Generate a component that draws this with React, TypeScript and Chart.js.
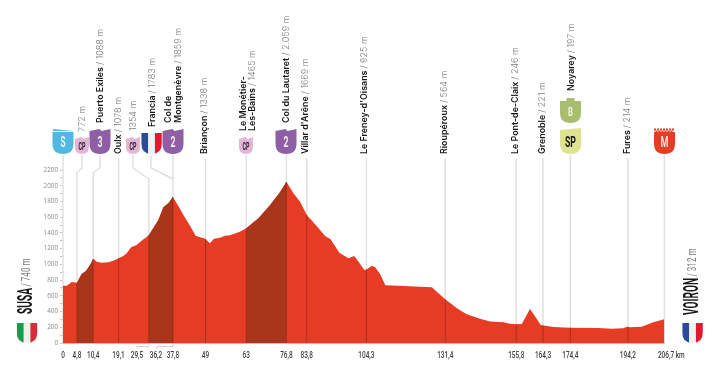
import React, { useEffect, useRef } from "react";
import { Chart, registerables } from "chart.js";
Chart.register(...registerables);

const profileKm = [0,1.3,3,4.8,6.4,7.9,9.3,10.4,11.6,13.3,15.6,17.3,19.1,20.7,21.9,23.4,25.3,27,29.5,31,32.8,34.5,36.2,37.8,39.6,41.4,43.7,45.6,47.1,48.9,50.5,51.9,54,55.7,57.4,60.8,63,67.2,71.2,74.7,76.8,79.2,81.5,83.8,87.2,90.1,92,95,98.1,100.1,101.6,103.6,104.3,106.2,107.3,109,110.8,117.1,126.8,128.5,131.4,135.4,138.8,143.4,146.8,151.4,153.7,155.8,157.7,158.8,160.5,162.2,164.2,168.6,174.4,184,188.6,192.6,193.8,194.9,198.9,202.9,206.7];
const profileElev = [729,729,776,765,877,916,992,1072,1034,1022,1026,1047,1077,1106,1140,1217,1246,1301,1370,1458,1564,1725,1776,1857,1746,1628,1488,1365,1344,1327,1267,1327,1340,1365,1369,1416,1458,1585,1755,1925,2050,1903,1797,1628,1488,1361,1318,1149,1077,1106,1034,928,935,983,962,877,733,725,708,653,555,441,365,309,275,263,246,237,242,314,432,343,229,203,195,191,182,187,208,199,208,263,301];

const stopKm = [0,4.8,10.4,19.1,29.5,37.8,49,63,76.8,83.8,104.3,131.4,155.8,165,174.4,194.2,206.7];
const stopKmLabels = ["0","4,8","10,4","19,1","29,5","37,8","49","63","76,8","83,8","104,3","131,4","155,8","164,3","174,4","194,2","206,7 km"];
const climbs = [[4.8,10.4],[29.5,37.8],[63,76.8]];

const placeNames = ["", "Puerto Exiles","Oulx","","Francia","Col de|Montgenèvre","Briançon","Le Monétier-|Les-Bains","Col du Lautaret","Villar d'Arêne","Le Freney-d'Oisans","Rioupéroux","Le Pont-de-Claix","Grenoble","Noyarey","Fures"];
const placeHeights = ["772 m","1088 m","1078 m","1354 m","1783 m","1859 m","1338 m","1465 m","2.059 m","1669 m","925 m","564 m","246 m","221 m","197 m","214 m"];
const placeX = [82,100,118,133,152,178,204.5,252.5,286,305.7,364.5,444.5,515.5,542,571.5,627];
const placeBottom = [132,123,154,131,127,123,154,131,123,154,154,154,154,154,91,154];

const RED = "#e63c24";
const DARK = "#a9361b";
const GREY = "#dedede";
const COND = "Roboto";

function pts(lo: number, hi: number) {
  return profileKm.map((x, i) => ({ x, y: profileElev[i] })).filter((p) => p.x >= lo && p.x <= hi);
}

function elevAt(km: number) {
  for (let i = 1; i < profileKm.length; i++) {
    if (km <= profileKm[i]) {
      const t = (km - profileKm[i - 1]) / (profileKm[i] - profileKm[i - 1]);
      return profileElev[i - 1] + t * (profileElev[i] - profileElev[i - 1]);
    }
  }
  return profileElev[profileElev.length - 1];
}

function shieldPath(c: CanvasRenderingContext2D, cx: number, top: number, w: number, bottom: number) {
  const l = cx - w / 2, r = cx + w / 2;
  const mid = bottom - w * 0.5;
  c.lineTo(r, mid);
  c.quadraticCurveTo(r, bottom, cx, bottom);
  c.quadraticCurveTo(l, bottom, l, mid);
  c.lineTo(l, top);
}

function fitText(c: CanvasRenderingContext2D, t: string, x: number, y: number, font: string, color: string, len: number) {
  c.save();
  c.font = font;
  c.fillStyle = color;
  c.textAlign = "center";
  c.textBaseline = "middle";
  const m = c.measureText(t).width;
  c.translate(x, y);
  c.scale(len / m, 1);
  c.fillText(t, 0, 0);
  c.restore();
}

function kmLabel(c: CanvasRenderingContext2D, t: string, x: number) {
  c.save();
  c.font = `500 9.8px ${COND}`;
  c.fillStyle = "#3c3c3c";
  c.textAlign = "center";
  c.textBaseline = "middle";
  c.translate(x, 356);
  c.scale(0.66, 1);
  c.fillText(t, 0, 0);
  c.restore();
}

function shield(c: CanvasRenderingContext2D, cx: number, w: number, top: number, bottom: number, fill: string, kind: string) {
  const l = cx - w / 2, r = cx + w / 2;
  c.save();
  c.fillStyle = fill;
  c.beginPath();
  if (kind === "tabs") {
    c.moveTo(l, top + 2);
    c.lineTo(cx - 0.5, top);
    c.lineTo(cx + 1.5, top + 2);
    c.lineTo(r, top);
  } else if (kind === "slant") {
    c.moveTo(l, top + 2);
    c.lineTo(r, top);
  } else if (kind === "cap") {
    c.moveTo(l, top + 3);
    c.lineTo(cx - 4, top + 3);
    c.lineTo(cx - 4, top);
    c.lineTo(cx + 4, top);
    c.lineTo(cx + 4, top + 3);
    c.lineTo(r, top + 3);
  } else {
    c.moveTo(l, top);
    c.lineTo(r, top);
  }
  shieldPath(c, cx, top, w, bottom);
  c.closePath();
  c.fill();
  c.restore();
}

function flag(c: CanvasRenderingContext2D, cx: number, w: number, top: number, bottom: number, colors: string[]) {
  c.save();
  c.beginPath();
  c.moveTo(cx - w / 2, top);
  c.lineTo(cx + w / 2, top);
  shieldPath(c, cx, top, w, bottom);
  c.closePath();
  c.clip();
  colors.forEach((col, i) => {
    c.fillStyle = col;
    c.fillRect(cx - w / 2 + (i * w) / 3, top, w / 3 + 0.5, bottom - top);
  });
  c.restore();
}

function rotatedLabel(c: CanvasRenderingContext2D, name: string, height: string, x: number, bottom: number) {
  const parts = name.split("|");
  c.save();
  c.translate(x, bottom);
  c.rotate(-Math.PI / 2);
  c.textBaseline = "middle";
  c.textAlign = "left";
  const nameFont = "600 8.9px Inter";
  const hFont = "300 9px Inter";
  if (parts.length === 2) {
    c.font = nameFont;
    c.fillStyle = "#161616";
    c.fillText(parts[0], 0, -9.5);
  }
  const last = parts[parts.length - 1];
  let px = 0;
  if (last) {
    c.font = nameFont;
    c.fillStyle = "#161616";
    c.fillText(last, 0, 0);
    px = c.measureText(last).width + 2;
  }
  c.font = hFont;
  c.fillStyle = "#7d7d7d";
  c.fillText((last ? "/ " : "") + height, px, 0);
  c.restore();
}

const decor = {
  id: "decor",
  beforeDatasetsDraw(chart: any) {
    const c: CanvasRenderingContext2D = chart.ctx;
    const xs = chart.scales.x;
    const bottom = chart.scales.y.getPixelForValue(0);
    c.save();
    c.strokeStyle = GREY;
    c.lineWidth = 1.4;
    const line = (p: number[][]) => {
      c.beginPath();
      p.forEach(([a, b], i) => (i ? c.lineTo(a, b) : c.moveTo(a, b)));
      c.stroke();
    };
    stopKm.forEach((km) => {
      const x = xs.getPixelForValue(km);
      let path = [[x, 155], [x, bottom]];
      if (km === 4.8) path = [[82, 155], [82, 168], [x, 172.5], [x, bottom]];
      if (km === 10.4) path = [[100, 155], [100, 168], [x, 172.5], [x, bottom]];
      if (km === 29.5) path = [[133, 155], [133, 168], [x, 179], [x, bottom]];
      if (km === 19.1 || km === 49 || km === 83.8 || km === 104.3 || km === 131.4 || km === 155.8 || km === 165 || km === 194.2) path = [[x, 158], [x, bottom]];
      line(path);
    });
    const x37 = xs.getPixelForValue(37.8);
    line([[151, 155], [151, 168], [x37, 179]]);
    c.restore();
  },
  afterDraw(chart: any) {
    const c: CanvasRenderingContext2D = chart.ctx;
    const xs = chart.scales.x;
    c.save();
    // km labels, condensed, with connectors for the two that are moved aside
    c.strokeStyle = "#c4c4c4";
    c.lineWidth = 0.8;
    const x29 = xs.getPixelForValue(29.5);
    const x37 = xs.getPixelForValue(37.8);
    c.beginPath();
    c.moveTo(137, 349); c.lineTo(137, 346.5); c.lineTo(x29, 346.5); c.lineTo(x29, 343.5);
    c.moveTo(157, 349); c.lineTo(157, 346.5); c.lineTo(x37, 346.5); c.lineTo(x37, 343.5);
    c.stroke();
    stopKm.forEach((km, i) => {
      if (km === 29.5) kmLabel(c, stopKmLabels[i], 137);
      else if (i === stopKm.length - 1) kmLabel(c, stopKmLabels[i], xs.getPixelForValue(km) + 7);
      else kmLabel(c, stopKmLabels[i], xs.getPixelForValue(km));
    });
    kmLabel(c, "36,2", 156);

    // rotated place labels
    placeNames.forEach((n, i) => rotatedLabel(c, n, placeHeights[i], placeX[i], placeBottom[i]));

    // badges
    const purple = "#8f5fa5";
    const pink = "#e3b6d8";
    shield(c, 63, 21, 132, 154, "#4fb9df", "flat");
    c.fillStyle = "#4fb9df";
    c.beginPath(); c.moveTo(53, 129); c.lineTo(73.5, 131); c.lineTo(53, 131); c.closePath(); c.fill();
    fitText(c, "S", 63, 143.5, `bold 14px ${COND}`, "#eaf8fc", 5);
    ([[82, "CP"], [133, "CP"], [246, "CP"]] as [number, string][]).forEach(([x, t]) => {
      shield(c, x, 14, 137, 154, pink, "tabs");
      fitText(c, t, x, 147, `bold 10px ${COND}`, "#2d2230", 7);
    });
    ([[100, "3"], [173, "2"], [286, "2"]] as [number, string][]).forEach(([x, t]) => {
      shield(c, x, 21, 129, 154, purple, "tabs");
      fitText(c, t, x, 143.5, `bold 14px ${COND}`, "#f4ecf6", 5);
    });
    flag(c, 151.5, 20.5, 133, 154, ["#2b4a9b", "#eef0f4", "#e3172f"]);
    flag(c, 27, 20.5, 323, 343, ["#1a9a4b", "#eef0ea", "#d22f3b"]);
    flag(c, 692.5, 20.5, 323, 343, ["#2b4a9b", "#eef0f4", "#e3172f"]);
    shield(c, 570.5, 21, 98, 123, "#a8bd6d", "cap");
    fitText(c, "B", 570.5, 112.5, `bold 13px ${COND}`, "#f1f4dc", 5);
    shield(c, 570.5, 21, 128, 154, "#dfe28f", "slant");
    fitText(c, "SP", 570.5, 143.5, `bold 14px ${COND}`, "#17170f", 11);
    shield(c, 664.5, 21, 132, 154, RED, "flat");
    c.fillStyle = RED;
    for (let i = 0; i < 7; i++) {
      c.fillRect(654 + i * 3, 128.5, 2, 2);
      if (i < 6) c.fillRect(655.5 + i * 3, 130.5, 2, 1.5);
    }
    fitText(c, "M", 664.5, 143.5, `bold 14px ${COND}`, "#fde4dc", 8);

    // start and finish
    const title = (x: number, bottom: number, big: string, small: string, bigLen: number) => {
      c.save();
      c.translate(x, bottom);
      c.rotate(-Math.PI / 2);
      c.textBaseline = "middle";
      c.textAlign = "left";
      c.save();
      c.font = `bold 21px ${COND}`;
      c.fillStyle = "#161616";
      const m = c.measureText(big).width;
      c.scale(bigLen / m, 1);
      c.fillText(big, 0, 0);
      c.restore();
      c.save();
      c.font = `13px ${COND}`;
      c.fillStyle = "#7d7d7d";
      const m2 = c.measureText(small).width;
      c.translate(bigLen + 1.5, 0);
      c.scale(28 / m2, 1);
      c.fillText(small, 0, 0);
      c.restore();
      c.restore();
    };
    title(27, 314, "SUSA", "/ 740 m", 26);
    title(693, 315, "VOIRON", "/ 312 m", 37);
    c.restore();
  },
};

export default function App() {
  const ref = useRef<HTMLCanvasElement>(null);
  useEffect(() => {
    const area = { type: "line", parsing: false, pointRadius: 0, borderWidth: 0, tension: 0 };
    const chart = new Chart(ref.current!, {
      type: "line",
      data: {
        datasets: [
          ...stopKm.slice(1, -1).map((km) => ({
            type: "line", parsing: false, pointRadius: 0, borderWidth: 1, tension: 0,
            borderColor: "rgba(95,35,20,0.45)", fill: false, order: 1,
            data: [{ x: km, y: 0 }, { x: km, y: elevAt(km) }],
          })),
          ...climbs.map(([lo, hi]) => ({ ...area, fill: "origin", backgroundColor: DARK, borderColor: DARK, order: 2, data: pts(lo, hi) })),
          { ...area, fill: "origin", backgroundColor: RED, borderColor: RED, order: 3, data: pts(0, 206.7) },
        ] as any,
      },
      options: {
        animation: false,
        responsive: false,
        events: [],
        layout: { padding: { top: 170, right: 55.7, left: 0, bottom: 0 } },
        plugins: { legend: { display: false }, tooltip: { enabled: false } },
        scales: {
          x: {
            type: "linear",
            min: 0,
            max: 206.7,
            afterFit: (s: any) => { s.height = 38; },
            afterBuildTicks: (s: any) => { s.ticks = stopKm.map((value) => ({ value })); },
            grid: { drawOnChartArea: false, drawTicks: false },
            border: { color: "#c6c0bc", width: 1 },
            ticks: { autoSkip: false, maxRotation: 0, callback: () => "" },
          },
          y: {
            min: 0,
            max: 2200,
            afterFit: (s: any) => { s.width = 63; },
            grid: { drawOnChartArea: false, tickLength: 3, color: "#c8c8c8" },
            border: { display: false },
            ticks: {
              stepSize: 100,
              autoSkip: false,
              padding: 2,
              color: "#8a8a8a",
              font: { family: "Open Sans", size: 6.3 },
              callback: (v: any) => (Number(v) % 200 === 0 ? String(v) : ""),
            },
          },
        },
      } as any,
      plugins: [decor] as any,
    });
    return () => chart.destroy();
  }, []);
  return (
    <div style={{ position: "fixed", left: 0, top: 0, width: 720, height: 381, background: "#fff" }}>
      <canvas ref={ref} width={720} height={381} style={{ display: "block" }} />
    </div>
  );
}
